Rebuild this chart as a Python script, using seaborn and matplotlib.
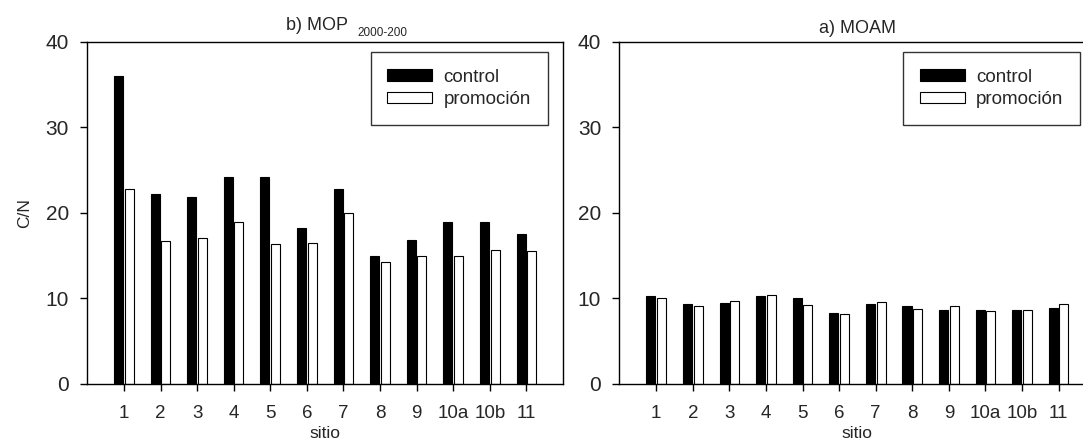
import matplotlib
matplotlib.use('Agg')
import matplotlib.pyplot as plt
import matplotlib.patches as mpatches
import seaborn as sns
import pandas as pd

# Datos (relacion C/N por sitio)
sitios = ['1', '2', '3', '4', '5', '6', '7', '8', '9', '10a', '10b', '11']
tratamientos = ['control', 'promoción']

mop_control = [36.0, 22.2, 21.8, 24.15, 24.15, 18.2, 22.8, 14.9, 16.85, 18.9, 18.9, 17.5]
mop_promocion = [22.8, 16.7, 17.0, 18.9, 16.3, 16.5, 20.0, 14.25, 15.0, 15.0, 15.6, 15.5]

moam_control = [10.3, 9.37, 9.5, 10.3, 10.1, 8.28, 9.3, 9.1, 8.7, 8.7, 8.7, 8.83]
moam_promocion = [10.07, 9.13, 9.65, 10.35, 9.2, 8.2, 9.57, 8.78, 9.13, 8.55, 8.68, 9.37]

y_ticks = [0, 10, 20, 30, 40]

# Estilo
sns.set_style('white')
plt.rcParams['font.family'] = ['Liberation Sans', 'DejaVu Sans']


def armar_tabla(control, promocion):
    """Pasa las dos series a formato largo para seaborn"""
    filas = []
    for s, c, p in zip(sitios, control, promocion):
        filas.append({'sitio': s, 'tratamiento': 'control', 'cn': c})
        filas.append({'sitio': s, 'tratamiento': 'promoción', 'cn': p})
    return pd.DataFrame(filas)


def dibujar_panel(ax, df, con_ylabel):
    sns.barplot(data=df, x='sitio', y='cn', hue='tratamiento', order=sitios,
                hue_order=tratamientos, palette={'control': 'black', 'promoción': 'white'},
                width=0.58, gap=0.15, edgecolor='black', linewidth=0.8,
                errorbar=None, legend=False, ax=ax)

    ax.set_xlim(-1.01, 12.0)
    ax.set_ylim(0, 40)
    ax.set_yticks(y_ticks)
    ax.tick_params(axis='y', direction='out', length=5, width=1, pad=8,
                   labelsize=15, color='black', left=True)
    ax.tick_params(axis='x', direction='out', length=5, width=1, pad=10,
                   labelsize=13.5, color='black', bottom=True)
    for sp in ax.spines.values():
        sp.set_visible(True)
        sp.set_color('black')
        sp.set_linewidth(1)

    ax.set_xlabel('sitio', fontsize=12.5, labelpad=3)
    if con_ylabel:
        ax.set_ylabel('C/N', fontsize=12.5, labelpad=10)
    else:
        ax.set_ylabel('')

    # Leyenda con rectangulos
    handles = [mpatches.Patch(facecolor='black', edgecolor='black', linewidth=0.8, label='control'),
               mpatches.Patch(facecolor='white', edgecolor='black', linewidth=0.8, label='promoción')]
    leg = ax.legend(handles=handles, loc='upper right', bbox_to_anchor=(1 - 15 / 476, 1 - 10 / 342),
                    borderaxespad=0, fontsize=13.5, frameon=True, fancybox=False,
                    handlelength=2.4, handleheight=0.55, handletextpad=0.6,
                    labelspacing=0.3, borderpad=0.9)
    leg.get_frame().set_edgecolor('black')
    leg.get_frame().set_linewidth(1)


fig = plt.figure(figsize=(10.83, 4.41), dpi=100)
ax1 = fig.add_axes([0.0803, 0.1293, 0.4395, 0.7762])
ax2 = fig.add_axes([0.5718, 0.1293, 0.4395, 0.7762])

dibujar_panel(ax1, armar_tabla(mop_control, mop_promocion), True)
dibujar_panel(ax2, armar_tabla(moam_control, moam_promocion), False)

# Titulos (el de la izquierda lleva subindice)
ax1.text(0.548, 1.034, 'b) MOP', transform=ax1.transAxes, ha='right', va='baseline', fontsize=13)
ax1.text(0.569, 1.017, '2000-200', transform=ax1.transAxes, ha='left', va='baseline', fontsize=8.5)
ax2.text(0.5, 1.025, 'a) MOAM', transform=ax2.transAxes, ha='center', va='baseline', fontsize=13)

plt.savefig('out.png', dpi=100)
plt.close()
